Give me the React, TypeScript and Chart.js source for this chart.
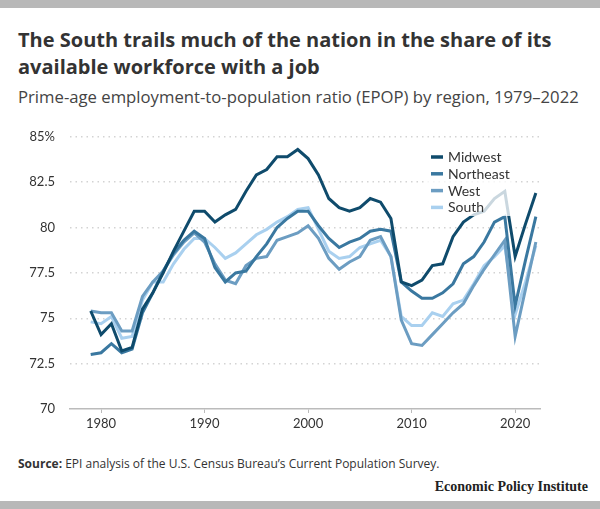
import React, { useEffect, useRef } from "react";
import { Chart, registerables } from "chart.js";

Chart.register(...registerables);

const years = [
  1979, 1980, 1981, 1982, 1983, 1984, 1985, 1986, 1987, 1988, 1989,
  1990, 1991, 1992, 1993, 1994, 1995, 1996, 1997, 1998, 1999, 2000,
  2001, 2002, 2003, 2004, 2005, 2006, 2007, 2008, 2009, 2010, 2011,
  2012, 2013, 2014, 2015, 2016, 2017, 2018, 2019, 2020, 2021, 2022,
];

const midwest = [
  75.4, 74.1, 74.7, 73.2, 73.4, 75.5, 76.4, 77.5, 78.7, 79.8, 80.9,
  80.9, 80.3, 80.7, 81.0, 82.0, 82.9, 83.2, 83.9, 83.9, 84.3, 83.8,
  82.9, 81.6, 81.1, 80.9, 81.1, 81.6, 81.4, 80.5, 77.0, 76.8, 77.1,
  77.9, 78.0, 79.5, 80.3, 80.7, 80.9, 81.6, 82.0, 78.4, 80.2, 81.9,
];

const northeast = [
  73.0, 73.1, 73.6, 73.1, 73.3, 75.3, 76.4, 77.6, 78.6, 79.3, 79.8,
  79.4, 77.8, 77.0, 77.5, 77.6, 78.4, 79.1, 80.0, 80.5, 80.9, 80.9,
  80.1, 79.4, 78.9, 79.2, 79.4, 79.8, 79.9, 79.8, 77.0, 76.5, 76.1,
  76.1, 76.4, 76.9, 78.0, 78.4, 79.2, 80.3, 80.6, 75.7, 78.2, 80.6,
];

const west = [
  75.4, 75.3, 75.3, 74.3, 74.3, 76.2, 77.0, 77.6, 78.5, 79.2, 79.7,
  79.2, 78.0, 77.1, 76.9, 77.9, 78.3, 78.4, 79.3, 79.5, 79.7, 80.1,
  79.4, 78.3, 77.7, 78.1, 78.4, 79.3, 79.5, 78.4, 74.9, 73.6, 73.5,
  74.1, 74.7, 75.3, 75.8, 76.8, 77.7, 78.5, 79.3, 74.0, 76.6, 79.2,
];

const south = [
  74.8, 74.7, 75.1, 73.9, 74.0, 76.0, 77.0, 77.0, 78.0, 78.8, 79.4,
  79.4, 78.9, 78.3, 78.6, 79.1, 79.6, 79.9, 80.3, 80.6, 81.0, 81.1,
  79.9, 78.7, 78.3, 78.4, 78.9, 79.1, 79.3, 78.4, 75.1, 74.6, 74.6,
  75.3, 75.1, 75.8, 76.0, 76.9, 77.9, 78.4, 79.0, 75.2, 77.0, 79.0,
];

const seriesNames = ["Midwest", "Northeast", "West", "South"];
const seriesValues = [midwest, northeast, west, south];
const seriesColors = ["#0f4b6c", "#3a78a0", "#6c9dc2", "#a9d0ef"];

const yTicks = [70, 72.5, 75, 77.5, 80, 82.5, 85];
const yTickLabels = ["70", "72.5", "75", "77.5", "80", "82.5", "85%"];
const xTicks = [1980, 1990, 2000, 2010, 2020];

const FONT = "Lato, 'Open Sans', sans-serif";
const TEXT_FONT = "'Open Sans', Lato, sans-serif";

const CANVAS_TOP = 114;
const CANVAS_H = 326;

const insetLegend = {
  id: "insetLegend",
  afterDatasetsDraw(chart: any) {
    const ctx = chart.ctx;
    const off = 120 - CANVAS_TOP;
    ctx.save();
    ctx.fillStyle = "rgba(255,255,255,0.78)";
    ctx.fillRect(424, 26 + off, 90, 70);
    const x0 = 431;
    const y0 = 37 + off;
    const step = 16.8;
    seriesNames.forEach((name, i) => {
      const y = y0 + i * step;
      ctx.strokeStyle = seriesColors[i];
      ctx.lineWidth = 3.5;
      ctx.beginPath();
      ctx.moveTo(x0, y);
      ctx.lineTo(x0 + 12, y);
      ctx.stroke();
      ctx.fillStyle = "#333";
      ctx.font = `14px ${FONT}`;
      ctx.textBaseline = "middle";
      ctx.textAlign = "left";
      ctx.fillText(name, x0 + 17, y + 0.5);
    });
    ctx.restore();
  },
};

function EpopChart() {
  const ref = useRef<HTMLCanvasElement | null>(null);
  useEffect(() => {
    if (!ref.current) return;
    const chart = new Chart(ref.current, {
      type: "line",
      data: {
        labels: years,
        datasets: seriesNames.map((name, i) => ({
          label: name,
          data: years.map((yr, j) => ({ x: yr, y: seriesValues[i][j] })),
          borderColor: seriesColors[i],
          backgroundColor: seriesColors[i],
          borderWidth: 3,
          pointRadius: 0,
          tension: 0,
          fill: false,
        })),
      },
      options: {
        animation: false,
        responsive: false,
        maintainAspectRatio: false,
        layout: { padding: { top: 10, right: 60, left: 0, bottom: 0 } },
        plugins: {
          legend: { display: false },
          tooltip: { enabled: false },
        },
        scales: {
          x: {
            type: "linear",
            min: 1977,
            max: 2022.4,
            afterBuildTicks: (s: any) => {
              s.ticks = xTicks.map((v) => ({ value: v }));
            },
            afterFit: (s: any) => {
              s.height = 31;
            },
            grid: {
              display: true,
              drawOnChartArea: false,
              drawTicks: true,
              tickLength: 4,
              color: "#bbbbbb",
              lineWidth: 1,
            },
            border: { display: true, color: "#bbbbbb", width: 1.5 },
            ticks: {
              padding: 3,
              color: "#333",
              font: { family: FONT, size: 13 },
              maxRotation: 0,
              autoSkip: false,
              callback: (v: any) => String(v),
            },
          },
          y: {
            min: 70,
            max: 85,
            afterBuildTicks: (s: any) => {
              s.ticks = yTicks.map((v) => ({ value: v }));
            },
            afterFit: (s: any) => {
              s.width = 70;
            },
            grid: {
              drawTicks: false,
              color: (c: any) =>
                c.tick && c.tick.value === 70 ? "rgba(0,0,0,0)" : "#d3d3d3",
              lineWidth: 1.5,
            },
            border: { display: false, dash: [1.5, 4] },
            ticks: {
              padding: 15,
              color: "#333",
              font: { family: FONT, size: 13 },
              callback: (v: any) => {
                const k = yTicks.indexOf(Number(v));
                return k >= 0 ? yTickLabels[k] : "";
              },
            },
          },
        },
      },
      plugins: [insetLegend],
    });
    return () => chart.destroy();
  }, []);
  return (
    <canvas
      ref={ref}
      width={600}
      height={CANVAS_H}
      style={{ position: "absolute", left: 0, top: CANVAS_TOP, width: 600, height: CANVAS_H }}
    />
  );
}

export default function App() {
  return (
    <div
      style={{
        position: "absolute",
        left: 0,
        top: 0,
        width: 600,
        height: 509,
        background: "#fff",
        fontFamily: TEXT_FONT,
        overflow: "hidden",
      }}
    >
      <div style={{ position: "absolute", left: 0, top: 0, width: 600, height: 8, background: "#b8b8b8" }} />
      <div
        style={{
          position: "absolute",
          left: 18,
          top: 26,
          width: 580,
          fontSize: 20,
          lineHeight: "27px",
          fontWeight: 700,
          color: "#333",
          whiteSpace: "nowrap",
        }}
      >
        The South trails much of the nation in the share of its
        <br />
        available workforce with a job
      </div>
      <div
        style={{
          position: "absolute",
          left: 18,
          top: 86,
          fontSize: 16.7,
          lineHeight: "22px",
          color: "#444",
          whiteSpace: "nowrap",
        }}
      >
        Prime-age employment-to-population ratio (EPOP) by region, 1979–2022
      </div>
      <EpopChart />
      <div
        style={{
          position: "absolute",
          left: 18,
          top: 455,
          fontSize: 12,
          lineHeight: "17px",
          color: "#333",
          whiteSpace: "nowrap",
        }}
      >
        <b>Source:</b> EPI analysis of the U.S. Census Bureau’s Current Population Survey.
      </div>
      <div
        style={{
          position: "absolute",
          right: 12,
          top: 478,
          fontSize: 14,
          lineHeight: "18px",
          fontWeight: 700,
          color: "#222",
          fontFamily: "'Liberation Serif', 'DejaVu Serif', serif",
          whiteSpace: "nowrap",
        }}
      >
        Economic Policy Institute
      </div>
      <div style={{ position: "absolute", left: 0, top: 501, width: 600, height: 8, background: "#b8b8b8" }} />
    </div>
  );
}
